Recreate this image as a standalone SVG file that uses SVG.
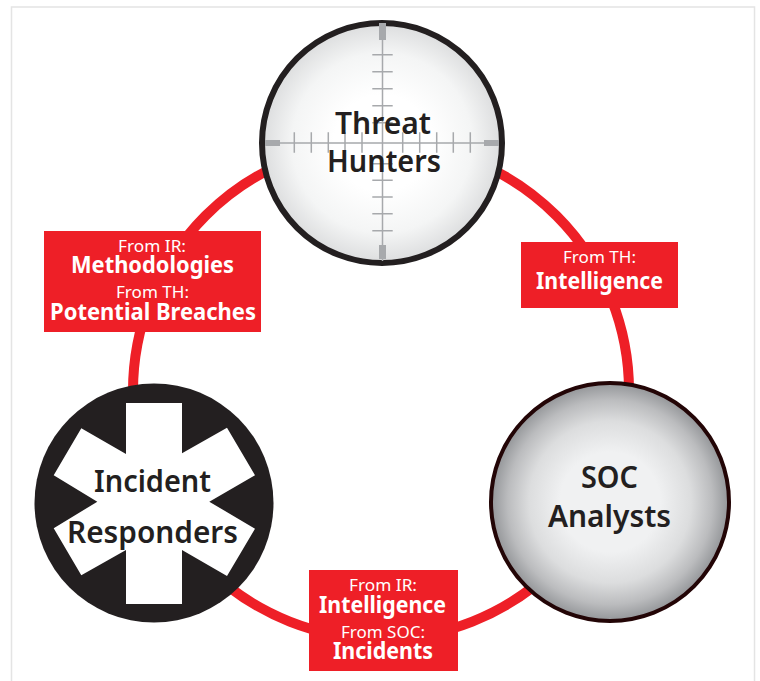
<svg xmlns="http://www.w3.org/2000/svg" width="760" height="681" viewBox="0 0 760 681">
<style>
text{font-family:"Noto Sans","Open Sans",sans-serif;text-anchor:middle}
.n{font-size:31px;font-weight:600;fill:#231f20}
.s{font-size:16px;font-weight:400;fill:#fff}
.b{font-size:23px;font-weight:700;fill:#fff}
.box{fill:#ee1f27}
.ret{stroke:#a7a9ac;stroke-width:1.5;fill:none}
.bar{fill:#a7a9ac}
</style>
<defs>
<radialGradient id="gTH"><stop offset="0.4" stop-color="#fff"/><stop offset="0.75" stop-color="#f4f5f5"/><stop offset="1" stop-color="#dcddde"/></radialGradient>
<radialGradient id="gSOC"><stop offset="0.42" stop-color="#f0f1f2"/><stop offset="0.68" stop-color="#dcddde"/><stop offset="0.86" stop-color="#bbbcbe"/><stop offset="1" stop-color="#939598"/></radialGradient>
</defs>
<rect x="11.500" y="7" width="743" height="680" fill="#fff" stroke="#e4e4e4" stroke-width="1.500"/>
<g id="connectors"><circle cx="381" cy="391" r="248" fill="none" stroke="#ee1f27" stroke-width="10"/></g>
<g id="threat-hunters">
<circle cx="382" cy="143" r="120" fill="url(#gTH)" stroke="#231f20" stroke-width="6"/>
<path class="ret" d="M382.500 25V261M265 143H499M372.300 54.700H392.700M372.300 71.700H392.700M372.300 88.700H392.700M372.300 105.700H392.700M372.300 122.700H392.700M372.300 163.700H392.700M372.300 180.300H392.700M372.300 197H392.700M372.300 213.700H392.700M372.300 230.700H392.700M294.300 132.300V152.700M311.300 132.300V152.700M328.300 132.300V152.700M345 132.300V152.700M362 132.300V152.700M402.700 132.300V152.700M419.700 132.300V152.700M436.700 132.300V152.700M453.300 132.300V152.700M470.300 132.300V152.700"/>
<rect class="bar" x="379" y="23" width="7" height="17"/><rect class="bar" x="379" y="245" width="7" height="14"/>
<rect class="bar" x="265" y="140" width="15" height="6"/><rect class="bar" x="484" y="140" width="15" height="6"/>
<text class="n" x="383" y="133.500" textLength="96" lengthAdjust="spacingAndGlyphs">Threat</text>
<text class="n" x="384" y="172" textLength="114" lengthAdjust="spacingAndGlyphs">Hunters</text>
</g>
<g id="soc-analysts">
<circle cx="610" cy="502" r="119" fill="url(#gSOC)" stroke="#230506" stroke-width="4"/>
<text class="n" x="609.500" y="488" textLength="57" lengthAdjust="spacingAndGlyphs">SOC</text>
<text class="n" x="609.500" y="527" textLength="123" lengthAdjust="spacingAndGlyphs">Analysts</text>
</g>
<g id="incident-responders">
<circle cx="154" cy="503" r="119.500" fill="#231f20"/>
<polygon fill="#fff" points="126,403 182,403 182,453.300 227,427.700 255,475.300 209.300,501.700 255,528.700 227,576 182,550 182,604 126,604 126,550 81.300,575.300 53.700,528.300 97.300,501.700 53.700,475.300 81.300,428.300 126,454"/>
<text class="n" x="152.500" y="492" textLength="117" lengthAdjust="spacingAndGlyphs">Incident</text>
<text class="n" x="152.500" y="543" textLength="171" lengthAdjust="spacingAndGlyphs">Responders</text>
</g>
<g id="label-left">
<rect class="box" x="44" y="231" width="217" height="101"/>
<text class="s" x="152" y="252" textLength="68" lengthAdjust="spacingAndGlyphs">From IR:</text>
<text class="b" x="152.500" y="273" textLength="163" lengthAdjust="spacingAndGlyphs">Methodologies</text>
<text class="s" x="152.500" y="298" textLength="73" lengthAdjust="spacingAndGlyphs">From TH:</text>
<text class="b" x="153" y="320" textLength="206" lengthAdjust="spacingAndGlyphs">Potential Breaches</text>
</g>
<g id="label-right">
<rect class="box" x="521" y="242" width="157" height="66"/>
<text class="s" x="599.500" y="263" textLength="73" lengthAdjust="spacingAndGlyphs">From TH:</text>
<text class="b" x="599.500" y="289" textLength="127" lengthAdjust="spacingAndGlyphs">Intelligence</text>
</g>
<g id="label-bottom">
<rect class="box" x="309" y="570" width="149" height="101"/>
<text class="s" x="383" y="591" textLength="68" lengthAdjust="spacingAndGlyphs">From IR:</text>
<text class="b" x="382.500" y="613" textLength="127" lengthAdjust="spacingAndGlyphs">Intelligence</text>
<text class="s" x="383" y="638" textLength="84" lengthAdjust="spacingAndGlyphs">From SOC:</text>
<text class="b" x="383" y="659" textLength="100" lengthAdjust="spacingAndGlyphs">Incidents</text>
</g>
</svg>
